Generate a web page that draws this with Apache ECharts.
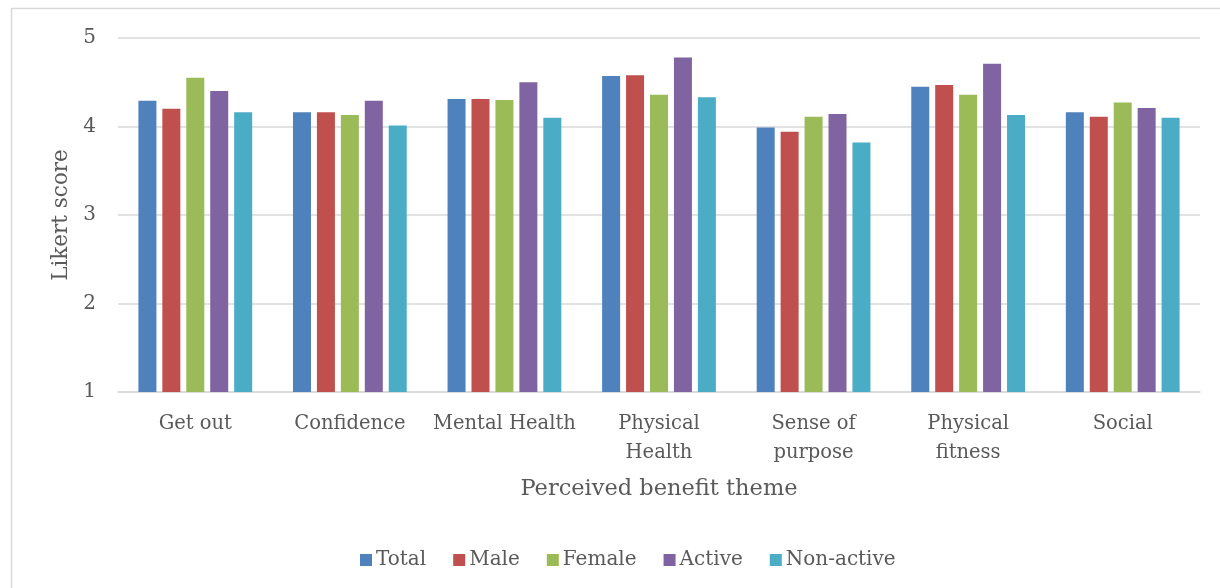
<!DOCTYPE html>
<html>
<head>
<meta charset="utf-8">
<script src="https://cdn.jsdelivr.net/npm/echarts@6/dist/echarts.min.js"></script>
<style>
html,body{margin:0;padding:0;background:#fff;}
#chart{width:1220px;height:588px;}
</style>
</head>
<body>
<div id="chart"></div>
<script>
const categories = ['Get out', 'Confidence', 'Mental Health', 'Physical\nHealth', 'Sense of\npurpose', 'Physical\nfitness', 'Social'];
const totalValues     = [4.29, 4.16, 4.31, 4.57, 3.99, 4.45, 4.16];
const maleValues      = [4.20, 4.16, 4.31, 4.58, 3.94, 4.47, 4.11];
const femaleValues    = [4.55, 4.13, 4.30, 4.36, 4.11, 4.36, 4.27];
const activeValues    = [4.40, 4.29, 4.50, 4.78, 4.14, 4.71, 4.21];
const nonActiveValues = [4.16, 4.01, 4.10, 4.33, 3.82, 4.13, 4.10];
const yTicks = [1, 2, 3, 4, 5];
const seriesNames = ['Total', 'Male', 'Female', 'Active', 'Non-active'];
const seriesColors = ['#4F81BD', '#C0504D', '#9BBB59', '#8064A2', '#4BACC6'];

const font = '"DejaVu Serif", "Liberation Serif", serif';
const textColor = '#595959';
const allValues = [totalValues, maleValues, femaleValues, activeValues, nonActiveValues];

const chart = echarts.init(document.getElementById('chart'), null, {renderer: 'canvas'});
chart.setOption({
  animation: false,
  backgroundColor: '#fff',
  graphic: [{
    type: 'rect', silent: true,
    shape: {x: 11.5, y: 8.5, width: 1230, height: 600},
    style: {fill: 'none', stroke: '#D9D9D9', lineWidth: 1.5}
  }],
  grid: {left: 118, right: 20, top: 38, bottom: 196},
  legend: {
    data: seriesNames,
    top: 545, left: 355,
    itemWidth: 12, itemHeight: 12, itemGap: 27,
    icon: 'rect',
    textStyle: {fontFamily: font, fontSize: 20, color: textColor, padding: [0, 0, 0, -1]}
  },
  xAxis: {
    type: 'category',
    data: categories,
    name: 'Perceived benefit theme',
    nameLocation: 'middle',
    nameGap: 97,
    nameTextStyle: {fontFamily: font, fontSize: 22.5, color: textColor, verticalAlign: 'middle'},
    axisLine: {lineStyle: {color: '#D9D9D9', width: 1.5}},
    axisTick: {show: false},
    axisLabel: {fontFamily: font, fontSize: 19.5, color: textColor, margin: 17, lineHeight: 29, verticalAlign: 'top', interval: 0}
  },
  yAxis: {
    type: 'value',
    min: yTicks[0], max: yTicks[yTicks.length - 1], interval: 1,
    name: 'Likert score',
    nameLocation: 'middle',
    nameGap: 56,
    nameTextStyle: {fontFamily: font, fontSize: 21.5, color: textColor, verticalAlign: 'middle'},
    axisLine: {show: false},
    axisTick: {show: false},
    axisLabel: {fontFamily: font, fontSize: 20, color: textColor, margin: 22},
    splitLine: {lineStyle: {color: '#D9D9D9', width: 1.5}}
  },
  series: seriesNames.map((name, i) => ({
    name: name,
    type: 'bar',
    data: allValues[i],
    barWidth: 18,
    barGap: '33%',
    itemStyle: {color: seriesColors[i]}
  }))
});
</script>
</body>
</html>
